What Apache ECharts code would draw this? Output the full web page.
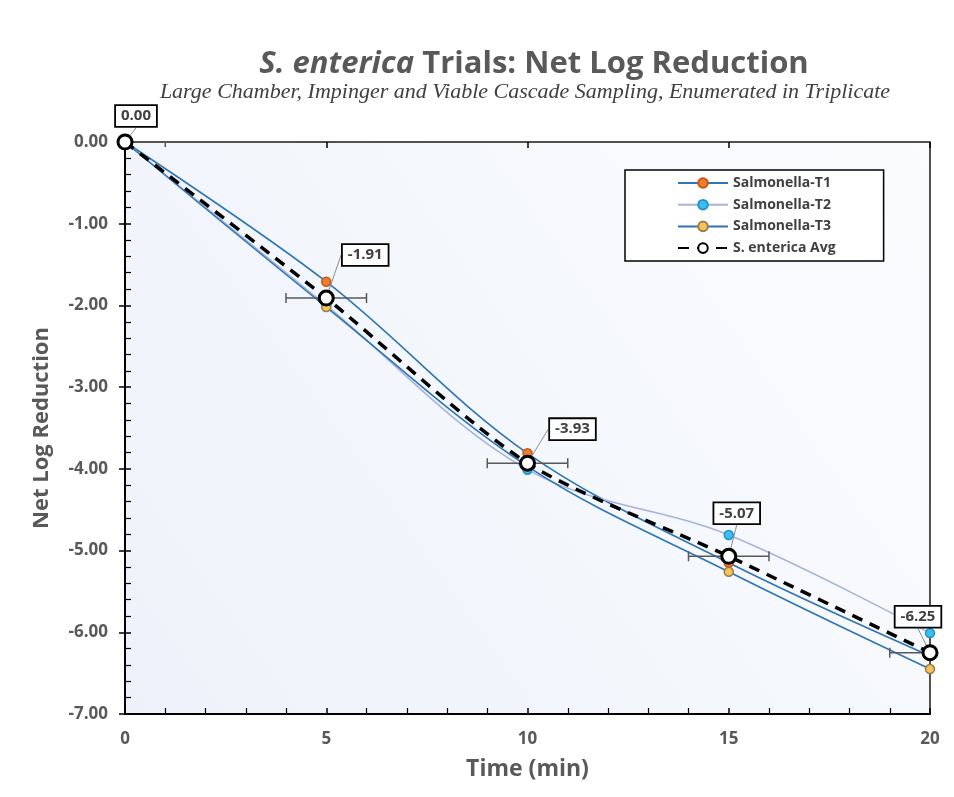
<!DOCTYPE html>
<html>
<head>
<meta charset="utf-8">
<script src="https://cdn.jsdelivr.net/npm/echarts@6/dist/echarts.min.js"></script>
<style>
html,body{margin:0;padding:0;background:#fff;}
#chart{width:954px;height:797px;}
</style>
</head>
<body>
<div id="chart"></div>
<script>
// ---- data ----
var timeMin = [0, 5, 10, 15, 20];
var trialT1 = [0, -1.71, -3.81, -5.15, -6.29];
var trialT2 = [0, -2.00, -4.01, -4.81, -6.01];
var trialT3 = [0, -2.02, -3.97, -5.26, -6.45];
var avgVals = [0, -1.91, -3.93, -5.07, -6.25];
var timeErr = [1, 1, 1, 1, 1];
var seriesNames = ['Salmonella-T1', 'Salmonella-T2', 'Salmonella-T3', 'S. enterica Avg'];

function pairs(ys){ return timeMin.map(function(x,i){ return [x, ys[i]]; }); }

// label offsets (pixels, relative to point)
var labelOffsets = [[11,-26],[39,-43],[45,-34],[8,-43],[-12,-36]];

var chart = echarts.init(document.getElementById('chart'));
var txt = '#595959';
var font = '"Open Sans", "Noto Sans", sans-serif';

var option = {
  animation: false,
  backgroundColor: '#ffffff',
  title: [{
    text: '{i|S. enterica}{n| Trials: Net Log Reduction}',
    left: 529, textAlign: 'center', top: 44,
    textStyle: {
      rich: {
        i: {fontFamily: font, fontSize: 31, fontWeight: 'bold', fontStyle: 'italic', color: txt},
        n: {fontFamily: font, fontSize: 31, fontWeight: 'bold', color: txt}
      }
    }
  },{
    text: 'Large Chamber, Impinger and Viable Cascade Sampling, Enumerated in Triplicate',
    left: 520, textAlign: 'center', top: 76,
    textStyle: {fontFamily: '"Liberation Serif", "DejaVu Serif", serif', fontStyle: 'italic', fontWeight: 'normal', fontSize: 22, color: '#404040'}
  }],
  legend: {
    orient: 'vertical',
    left: 625, top: 170,
    backgroundColor: '#ffffff',
    borderColor: '#000000',
    borderWidth: 1.5,
    padding: [6, 48, 6, 52],
    itemGap: 7.7,
    itemWidth: 50,
    itemHeight: 12,
    data: seriesNames,
    textStyle: {fontFamily: font, fontSize: 14, fontWeight: 'bold', color: '#404040'}
  },
  grid: {
    left: 125, right: 24, top: 142, bottom: 83,
    show: true,
    borderColor: '#1a1a1a',
    borderWidth: 1.5,
    backgroundColor: new echarts.graphic.LinearGradient(0, 1, 1, 0, [
      {offset: 0, color: '#edf2fa'},
      {offset: 1, color: '#fbfcfe'}
    ])
  },
  xAxis: [{
    type: 'value', min: 0, max: 20, interval: 5,
    name: 'Time (min)', nameLocation: 'middle', nameGap: 44,
    nameTextStyle: {fontFamily: font, fontSize: 23, fontWeight: 'bold', color: txt},
    axisLine: {show: true, onZero: false, lineStyle: {color: '#000', width: 2}},
    axisTick: {show: true, inside: true, length: 6, lineStyle: {color: '#000', width: 1.5}},
    minorTick: {show: true, splitNumber: 5, length: 6, lineStyle: {color: '#000', width: 1.2}},
    axisLabel: {fontFamily: font, fontSize: 17, fontWeight: 'bold', color: txt, margin: 17},
    splitLine: {show: false}
  },{
    type: 'value', min: 0, max: 20, interval: 5, position: 'bottom',
    axisLine: {show: false},
    axisTick: {show: true, inside: false, length: 6, lineStyle: {color: '#000', width: 1.5}},
    axisLabel: {show: false},
    splitLine: {show: false}
  }],
  yAxis: [{
    type: 'value', min: -7, max: 0, interval: 1,
    name: 'Net Log Reduction', nameLocation: 'middle', nameGap: 72,
    nameTextStyle: {fontFamily: font, fontSize: 22, fontWeight: 'bold', color: txt},
    axisLine: {show: true, onZero: false, lineStyle: {color: '#000', width: 2}},
    axisTick: {show: true, inside: true, length: 6, lineStyle: {color: '#000', width: 1.5}},
    minorTick: {show: true, splitNumber: 5, length: 6, lineStyle: {color: '#000', width: 1.2}},
    axisLabel: {fontFamily: font, fontSize: 17, fontWeight: 'bold', color: txt, margin: 17,
      formatter: function(v){ return v.toFixed(2); }},
    splitLine: {show: false}
  },{
    type: 'value', min: -7, max: 0, interval: 1, position: 'left',
    axisLine: {show: false},
    axisTick: {show: true, inside: false, length: 6, lineStyle: {color: '#000', width: 1.5}},
    axisLabel: {show: false},
    splitLine: {show: false}
  }],
  series: [
    {
      name: seriesNames[0], type: 'line', smooth: 0.35, data: pairs(trialT1),
      symbol: 'circle', symbolSize: 9, z: 3,
      lineStyle: {color: '#2e75b6', width: 1.6},
      itemStyle: {color: '#ed7d31', borderColor: '#c55a11', borderWidth: 1.5}
    },
    {
      name: seriesNames[1], type: 'line', smooth: 0.35, data: pairs(trialT2),
      symbol: 'circle', symbolSize: 9, z: 3,
      lineStyle: {color: '#a8b3dc', width: 1.6},
      itemStyle: {color: '#3cbdf0', borderColor: '#1f95c8', borderWidth: 1.5}
    },
    {
      name: seriesNames[2], type: 'line', smooth: 0.35, data: pairs(trialT3),
      symbol: 'circle', symbolSize: 9, z: 3,
      lineStyle: {color: '#2e75b6', width: 1.6},
      itemStyle: {color: '#f6c454', borderColor: '#9a7b4f', borderWidth: 1.5}
    },
    {
      name: 'errbars', type: 'custom', z: 4, clip: true,
      data: timeMin.map(function(x,i){ return [x, avgVals[i], timeErr[i]]; }),
      renderItem: function(params, api){
        var x = api.value(0), y = api.value(1), e = api.value(2);
        var p1 = api.coord([x - e, y]);
        var p2 = api.coord([x + e, y]);
        var cap = 5;
        var st = {stroke: '#595959', lineWidth: 1.5};
        return {type: 'group', children: [
          {type: 'line', shape: {x1: p1[0], y1: p1[1], x2: p2[0], y2: p2[1]}, style: st},
          {type: 'line', shape: {x1: p1[0], y1: p1[1]-cap, x2: p1[0], y2: p1[1]+cap}, style: st},
          {type: 'line', shape: {x1: p2[0], y1: p2[1]-cap, x2: p2[0], y2: p2[1]+cap}, style: st}
        ]};
      }
    },
    {
      name: seriesNames[3], type: 'line', smooth: 0.25, data: pairs(avgVals),
      symbol: 'circle', symbolSize: 14, z: 5,
      lineStyle: {color: '#000000', width: 3.5, type: [11, 8]},
      itemStyle: {color: '#ffffff', borderColor: '#000000', borderWidth: 3},
      label: {
        show: true, position: 'inside',
        formatter: function(p){ return p.value[1].toFixed(2); },
        fontFamily: font, fontSize: 15, fontWeight: 'bold', color: '#404040',
        backgroundColor: '#ffffff', borderColor: '#000000', borderWidth: 1.8,
        padding: [3, 5, 2, 5]
      },
      labelLine: {show: true, lineStyle: {color: '#8c8c8c', width: 1}},
      labelLayout: function(p){
        var o = labelOffsets[p.dataIndex];
        var cx = p.rect.x + p.rect.width/2, cy = p.rect.y + p.rect.height/2;
        return {x: cx + o[0], y: cy + o[1], align: 'center', verticalAlign: 'middle'};
      }
    }
  ]
};
chart.setOption(option);
</script>
</body>
</html>
